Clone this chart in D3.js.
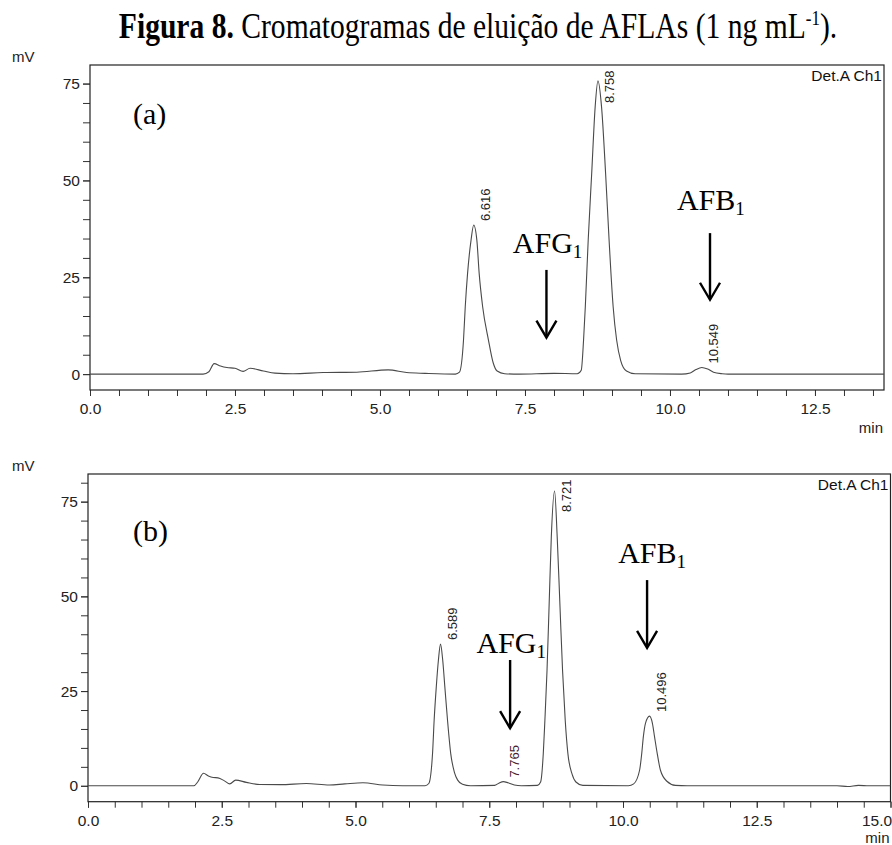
<!DOCTYPE html>
<html>
<head>
<meta charset="utf-8">
<script src="https://cdn.jsdelivr.net/npm/d3@7"></script>
<style>
  body { margin: 0; background: #fff; }
  svg { display: block; }
</style>
</head>
<body>
<div class="chart"></div>
<script>
// chromatogram (a): time (min) and signal (mV)
const timeA = [0.00, 1.95, 2.05, 2.14, 2.25, 2.36, 2.50, 2.64, 2.76, 2.99, 3.19, 3.50, 4.02, 4.60, 5.14, 5.46, 5.78,
  6.30, 6.37, 6.44, 6.47, 6.51, 6.57, 6.616, 6.67, 6.71, 6.77, 6.87, 6.95, 7.02, 7.15, 7.40, 8.00, 8.40,
  8.47, 8.51, 8.54, 8.59, 8.65, 8.71, 8.758, 8.82, 8.89, 8.95, 9.02, 9.08, 9.15, 9.25, 9.40,
  10.20, 10.35, 10.45, 10.549, 10.65, 10.75, 10.90, 11.00, 13.69];
const signalA = [0, 0, 0.6, 2.7, 2.1, 1.7, 1.5, 0.7, 1.5, 0.8, 0.25, 0.1, 0.4, 0.5, 1.1, 0.4, 0.2,
  0, 0.5, 8.8, 17.4, 26, 34.6, 38.5, 34.6, 26, 17.4, 8.8, 3, 0.8, 0.1, 0, 0.2, 0.1,
  1, 8.8, 17.4, 34.6, 51.8, 69, 75.7, 69, 51.8, 34.6, 17.4, 8.8, 3.5, 0.8, 0.1,
  0, 0.3, 1.2, 1.7, 1.3, 0.5, 0.1, 0, 0];

// chromatogram (b)
const timeB = [0.00, 1.98, 2.05, 2.16, 2.25, 2.34, 2.43, 2.55, 2.65, 2.76, 2.96, 3.21, 3.60, 4.08, 4.51, 4.80, 5.14, 5.51, 5.88,
  6.30, 6.37, 6.44, 6.47, 6.51, 6.55, 6.589, 6.63, 6.67, 6.72, 6.78, 6.85, 6.91, 7.00, 7.15,
  7.60, 7.68, 7.765, 7.85, 7.97, 8.10, 8.40,
  8.46, 8.51, 8.54, 8.58, 8.62, 8.66, 8.721, 8.77, 8.82, 8.87, 8.92, 8.97, 9.05, 9.12, 9.25,
  10.10, 10.20, 10.31, 10.35, 10.38, 10.42, 10.496, 10.55, 10.59, 10.64, 10.70, 10.82, 10.98, 11.20,
  14.00, 14.20, 14.40, 14.60, 15.00];
const signalB = [0, 0, 1.0, 3.3, 2.6, 2.2, 2.1, 1.3, 0.5, 1.5, 0.9, 0.35, 0.3, 0.6, 0.2, 0.5, 0.8, 0.2, 0,
  0, 0.6, 8.5, 17.3, 26.1, 33.2, 37.4, 33.2, 26.1, 17.3, 8.5, 3.5, 1.5, 0.4, 0,
  0.1, 0.7, 1.1, 0.8, 0.2, 0, 0.1,
  1.0, 8.5, 17.3, 30.5, 48.1, 65.7, 77.8, 65.7, 48.1, 30.5, 17.3, 8.5, 3.0, 1.0, 0.1,
  0, 0.5, 4.1, 8.5, 12.9, 16.5, 18.4, 16.5, 12.9, 8.5, 4.1, 1.2, 0.1, 0,
  0, -0.2, 0.1, 0, 0];

const peaksA = [6.616, 8.758, 10.549];
const peaksB = [6.589, 7.765, 8.721, 10.496];

const xTicksA = [0, 2.5, 5, 7.5, 10, 12.5];
const xTicksB = [0, 2.5, 5, 7.5, 10, 12.5, 15];
const yTicks = [0, 25, 50, 75];

// annotations, in chart units
const compoundsA = [
  { name: 'AFG', t: 7.29, v: 31.3, arrowT: 7.87, from: 26.9, to: 9.4 },
  { name: 'AFB', t: 10.12, v: 42.4, arrowT: 10.69, from: 36.4, to: 19.2 }
];
const compoundsB = [
  { name: 'AFG', t: 7.26, v: 35.0, arrowT: 7.89, from: 33.2, to: 15.2 },
  { name: 'AFB', t: 9.91, v: 58.8, arrowT: 10.45, from: 54.3, to: 36.4 }
];

const w = 892;
const h = 845;
const sans = '"Liberation Sans", Arial, sans-serif';
const serif = '"Liberation Serif", "Times New Roman", serif';

const svg = d3.select('.chart')
  .append('svg')
  .attr('width', w)
  .attr('height', h);

// the title in the source is a bit stretched vertically
const title = svg.append('text')
  .attr('transform', 'translate(478, 38) scale(1, 1.22)')
  .attr('text-anchor', 'middle')
  .style('font-family', serif)
  .style('font-size', '29.6px')
  .attr('fill', '#000');
title.append('tspan').style('font-weight', 'bold').text('Figura 8.');
title.append('tspan').text(' Cromatogramas de eluição de AFLAs (1 ng mL');
title.append('tspan').attr('dy', -11).style('font-size', '17px').text('-1');
title.append('tspan').attr('dy', 11).text(').');

function drawPanel(opt) {
  const x = d3.scaleLinear().domain([0, opt.tMax]).range([opt.left, opt.right]);
  const y = d3.scaleLinear().domain(opt.yDomain).range([opt.bottom, opt.top]);

  const g = svg.append('g').attr('class', 'panel');

  g.append('clipPath').attr('id', 'clip-' + opt.id)
    .append('rect')
    .attr('x', opt.left).attr('y', opt.top)
    .attr('width', opt.right - opt.left).attr('height', opt.bottom - opt.top);

  // minor ticks
  g.append('g')
    .attr('transform', `translate(0, ${opt.bottom})`)
    .call(d3.axisBottom(x).tickValues(d3.range(0, opt.tMax + 0.001, 0.5)).tickFormat('').tickSize(6).tickSizeOuter(0))
    .call(a => a.select('.domain').remove())
    .call(a => a.selectAll('line').attr('stroke', '#333'));
  g.append('g')
    .attr('transform', `translate(${opt.left}, 0)`)
    .call(d3.axisLeft(y).tickValues(d3.range(0, opt.yDomain[1], 5)).tickFormat('').tickSize(7).tickSizeOuter(0))
    .call(a => a.select('.domain').remove())
    .call(a => a.selectAll('line').attr('stroke', '#333'));

  // labelled ticks
  g.append('g')
    .attr('transform', `translate(0, ${opt.bottom})`)
    .call(d3.axisBottom(x).tickValues(opt.xTicks).tickFormat(d3.format('.1f')).tickSize(6).tickPadding(7).tickSizeOuter(0))
    .call(a => a.select('.domain').remove())
    .call(a => a.selectAll('line').attr('stroke', '#333'))
    .call(a => a.selectAll('text').attr('fill', '#222').style('font-family', sans).style('font-size', '15.5px')
      .attr('dx', d => (x(d) > w - 20 ? -14 : 0)));
  g.append('g')
    .attr('transform', `translate(${opt.left}, 0)`)
    .call(d3.axisLeft(y).tickValues(yTicks).tickSize(7).tickPadding(3).tickSizeOuter(0))
    .call(a => a.select('.domain').remove())
    .call(a => a.selectAll('line').attr('stroke', '#333'))
    .call(a => a.selectAll('text').attr('fill', '#222').style('font-family', sans).style('font-size', '15.5px'));

  g.append('rect')
    .attr('x', opt.left).attr('y', opt.top)
    .attr('width', opt.right - opt.left).attr('height', opt.bottom - opt.top)
    .attr('fill', 'none').attr('stroke', '#222').attr('stroke-width', 1.2);

  g.append('text')
    .attr('x', 12).attr('y', opt.top - 3)
    .style('font-family', sans).style('font-size', '15px').attr('fill', '#222')
    .text('mV');
  g.append('text')
    .attr('x', opt.right - 1).attr('y', Math.min(opt.bottom + 43, h - 2))
    .attr('text-anchor', 'end')
    .style('font-family', sans).style('font-size', '15px').attr('fill', '#222')
    .text('min');
  g.append('text')
    .attr('x', opt.right - 2).attr('y', opt.top + 16)
    .attr('text-anchor', 'end')
    .style('font-family', sans).style('font-size', '15.5px').attr('fill', '#111')
    .text('Det.A Ch1');

  const pts = opt.time.map((t, i) => [t, opt.signal[i]]);
  const line = d3.line()
    .x(d => x(d[0]))
    .y(d => y(d[1]))
    .curve(d3.curveMonotoneX);
  g.append('path')
    .datum(pts)
    .attr('clip-path', `url(#clip-${opt.id})`)
    .attr('d', line)
    .attr('fill', 'none')
    .attr('stroke', '#4a4a4a')
    .attr('stroke-width', 1.1);

  // retention time labels
  opt.peaks.forEach(t => {
    const v = opt.signal[opt.time.indexOf(t)];
    const label = t.toFixed(3);
    const len = label.length * 6.6;
    const start = Math.max(y(v) - 4, opt.top + 5 + len);
    g.append('text')
      .attr('transform', `translate(${x(t) + 16}, ${start}) rotate(-90)`)
      .style('font-family', sans).style('font-size', '13px')
      .attr('fill', t === 7.765 ? '#4a1c2c' : '#222')
      .text(label);
  });

  g.append('text')
    .attr('x', x(opt.tag.t)).attr('y', y(opt.tag.v))
    .style('font-family', serif).style('font-size', '30px').attr('fill', '#000')
    .text(opt.tag.text);

  opt.compounds.forEach(c => {
    const tx = g.append('text')
      .attr('x', x(c.t)).attr('y', y(c.v))
      .style('font-family', serif).style('font-size', '30px').attr('fill', '#000');
    tx.append('tspan').text(c.name);
    tx.append('tspan').attr('dy', 5).style('font-size', '19px').text('1');

    const ax = x(c.arrowT);
    const y0 = y(c.from);
    const y1 = y(c.to);
    g.append('line')
      .attr('x1', ax).attr('x2', ax).attr('y1', y0).attr('y2', y1 - 1)
      .attr('stroke', '#000').attr('stroke-width', 2.4);
    g.append('path')
      .attr('d', `M${ax - 10},${y1 - 17}L${ax},${y1}L${ax + 10},${y1 - 17}`)
      .attr('fill', 'none').attr('stroke', '#000').attr('stroke-width', 2.4);
  });
}

drawPanel({
  id: 'a', left: 90, right: 884, top: 65, bottom: 390,
  tMax: 13.69, yDomain: [-4.1, 79.8], xTicks: xTicksA,
  time: timeA, signal: signalA, peaks: peaksA,
  compounds: compoundsA, tag: { text: '(a)', t: 0.74, v: 64.5 }
});

drawPanel({
  id: 'b', left: 88, right: 890.5, top: 474, bottom: 801.7,
  tMax: 15, yDomain: [-4.2, 82.3], xTicks: xTicksB,
  time: timeB, signal: signalB, peaks: peaksB,
  compounds: compoundsB, tag: { text: '(b)', t: 0.84, v: 64.6 }
});
</script>
</body>
</html>
